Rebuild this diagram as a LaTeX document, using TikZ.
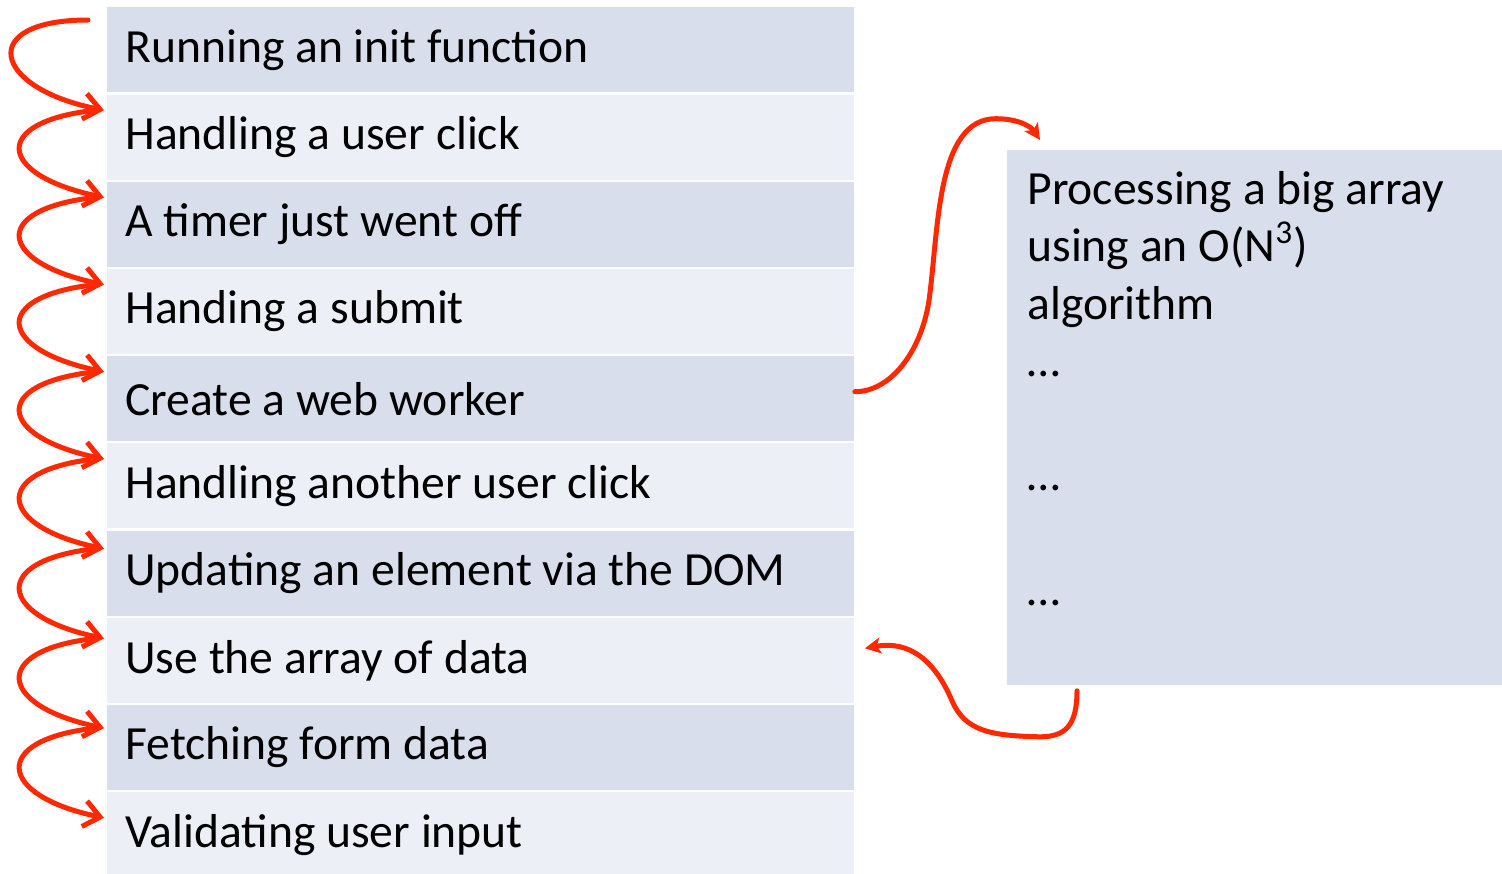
\documentclass[tikz,border=0pt]{standalone}
\usepackage{fontspec}
\setmainfont{Carlito}
\usepackage{tikz}
\usetikzlibrary{positioning,arrows.meta,calc}
\usepackage{xcolor}
\definecolor{rowdarkfill}{RGB}{217,222,236}
\definecolor{rowlightfill}{RGB}{236,239,245}
\definecolor{penred}{RGB}{255,40,0}

\begin{document}
\begin{tikzpicture}[x=0.5pt, y=-0.5pt,
  rowbase/.style={inner xsep=9pt, inner ysep=0pt, minimum width=373.5pt,
                  minimum height=42.5pt, anchor=north west,
                  font=\fontsize{23.8pt}{28pt}\selectfont},
  rowdark/.style={rowbase, fill=rowdarkfill},
  rowlight/.style={rowbase, fill=rowlightfill},
  workbox/.style={fill=rowdarkfill, inner xsep=10pt, inner ysep=10.5pt,
                  anchor=north west,
                  font=\fontsize{23.8pt}{28.65pt}\selectfont},
  curl/.style={draw=penred, line width=2.5pt, line cap=round, line join=round,
               -{Straight Barb[length=8pt,width=13pt]}},
  hop/.style={draw=penred, line width=2.5pt, line cap=round, line join=round,
              -{Stealth[length=8pt,width=8pt,inset=2pt]}},
  ]
  \useasboundingbox (0,0) rectangle (1502,873);

  % main thread queue
  \foreach \sty/\txt [count=\n] in {
      rowdark/Running an init function,
      rowlight/Handling a user click,
      rowdark/A timer just went off,
      rowlight/Handing a submit,
      rowdark/Create a web worker,
      rowlight/Handling another user click,
      rowdark/Updating an element via the DOM,
      rowlight/Use the array of data,
      rowdark/Fetching form data,
      rowlight/Validating user input}
    \node[\sty] (r\n) at (107,{7+(\n-1)*87.2}) {\makebox[355.5pt][l]{\txt}};

  % worker thread
  \node[workbox] (worker) at (1007,150) {\parbox[t][246.5pt][t]{227.5pt}{%
    Processing a big array\\
    using an O(N\textsuperscript{3})\\
    algorithm\\
    …\\[\baselineskip]
    …\\[\baselineskip]
    …}};

  % event loop
  \coordinate (launch) at (88,20);
  \draw[curl] (launch) .. controls +(-112,0) and +(-112,-22) .. ($(r2.north west)+(-3,16)$);
  \foreach \k in {2,...,9} {
    \pgfmathtruncatemacro\nxt{\k+1}
    \pgfmathsetmacro\offa{16+max(0,\k-6)*2.5}
    \pgfmathsetmacro\offb{16+max(0,\k-5)*2.5}
    \draw[curl] ($(r\k.north west)+(-12,\offa)$) .. controls +(-106,12) and +(-106,-22)
      .. ($(r\nxt.north west)+(-3,\offb)$);
  }

  % hand off and back
  \draw[hop] ($(r5.east)+(0,-7)$) .. controls +(36,0) and +(-8,50) .. ++(74,-90)
    .. controls +(10,-70) and +(-60,0) .. ++(67,-183)
    .. controls +(25,0) and +(-8,-12) .. ($(worker.north west)+(33,-10)$);
  \draw[hop] ($(worker.south west)+(70,5)$) .. controls +(0,35) and +(25,0) .. ++(-37,46)
    .. controls +(-50,-1) and +(13,30) .. ++(-88,-36)
    .. controls +(-17,-40) and +(45,-8) .. ($(r8.east)+(10,-12)$);
\end{tikzpicture}
\end{document}
